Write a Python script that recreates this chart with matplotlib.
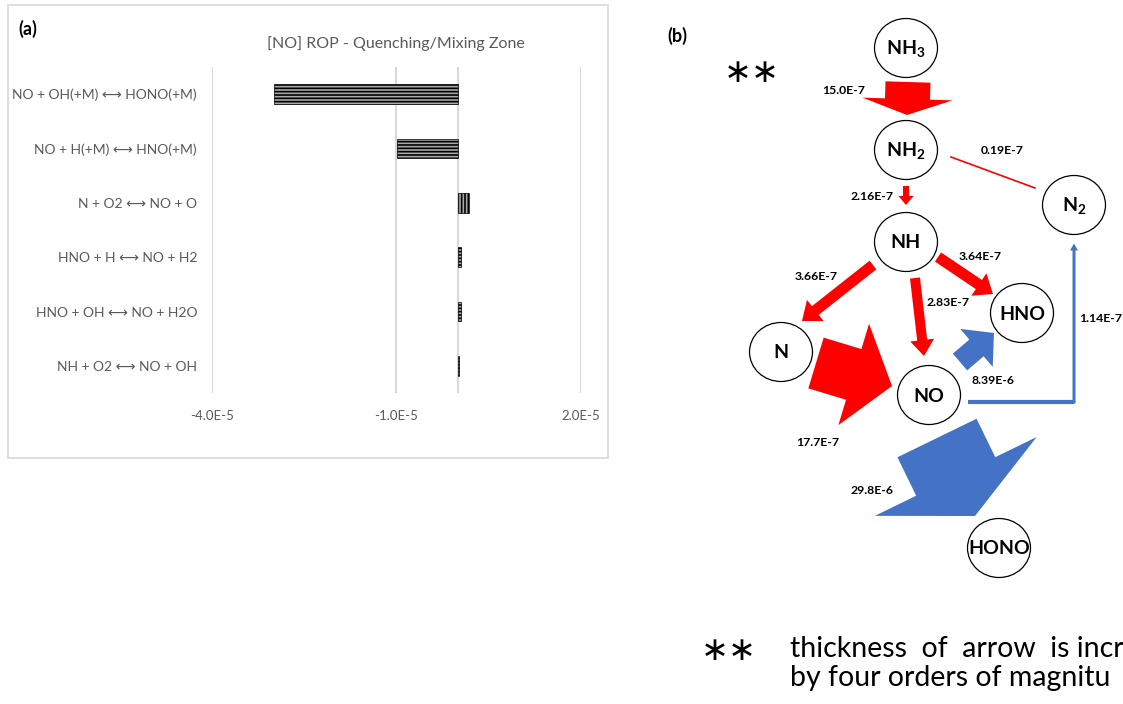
import matplotlib
matplotlib.use("Agg")
import matplotlib.pyplot as plt
from matplotlib.patches import Ellipse, FancyArrow, Rectangle
from matplotlib.ticker import FuncFormatter

plt.rcParams['font.family'] = ['Lato', 'DejaVu Sans']
plt.rcParams['hatch.linewidth'] = 1.2

# (a) rate of production of NO per reaction
reactions = [
    "NO + OH(+M) \u27f7 HONO(+M)",
    "NO + H(+M) \u27f7 HNO(+M)",
    "N + O2 \u27f7 NO + O",
    "HNO + H \u27f7 NO + H2",
    "HNO + OH \u27f7 NO + H2O",
    "NH + O2 \u27f7 NO + OH",
]
rop = [-2.98e-5, -9.9e-6, 1.77e-6, 5.5e-7, 5.0e-7, 2.0e-7]
x_ticks = [-4e-5, -1e-5, 2e-5]

# (b) reaction path: species and fluxes between them
species = ["NH$_\\mathbf{3}$", "NH$_\\mathbf{2}$", "NH", "N$_\\mathbf{2}$", "N", "NO", "HNO", "HONO"]
flux_src = ["NH3", "NH2", "NH2", "NH", "NH", "NH", "N", "NO", "NO", "NO"]
flux_dst = ["NH2", "NH", "N2", "HNO", "N", "NO", "NO", "HNO", "HONO", "N2"]
flux_labels = ["15.0E-7", "2.16E-7", "0.19E-7", "3.64E-7", "3.66E-7",
               "2.83E-7", "17.7E-7", "8.39E-6", "29.8E-6", "1.14E-7"]

plt.rcParams['mathtext.fontset'] = 'custom'
plt.rcParams['mathtext.bf'] = 'Lato:bold'
plt.rcParams['mathtext.rm'] = 'Lato'

W, H = 1123, 704
fig = plt.figure(figsize=(W / 100, H / 100), dpi=100)

# pixel-space canvas for the pathway diagram and panel frame
cv = fig.add_axes([0, 0, 1, 1])
cv.set_xlim(0, W)
cv.set_ylim(H, 0)
cv.axis('off')

grey_txt = '#595959'
red = '#ff0000'
blue = '#4472c4'

cv.add_patch(Rectangle((8, 5), 600, 453, fill=False, edgecolor='#d9d9d9', lw=1.2))
cv.text(18, 29, "(a)", fontsize=13, fontweight='bold', va='center')
cv.text(667, 36, "(b)", fontsize=13, fontweight='bold', va='center')

# ---- bar chart ----
ax = fig.add_axes([211.7 / W, 1 - 393 / H, 369.2 / W, 326 / H])
ax.set_facecolor('none')
ypos = list(range(len(reactions)))
bars = ax.barh(ypos, rop, height=0.36, color='#a8a8a8', edgecolor='black',
               linewidth=0.5, hatch='-----')
bars[2].set_hatch('|||||')
ax.set_xlim(-4e-5, 2e-5)
ax.set_ylim(len(reactions) - 0.5, -0.5)
ax.set_xticks(x_ticks)
ax.set_yticks(ypos)
ax.set_yticklabels(reactions)


def sci(v, pos):
    m, e = f"{v:.1E}".split("E")
    return f"{m}E{int(e)}"


ax.xaxis.set_major_formatter(FuncFormatter(sci))
ax.grid(axis='x', color='#d9d9d9', lw=1.5)
ax.axvline(0, color='#d9d9d9', lw=1.5, zorder=0)
ax.set_axisbelow(True)
for s in ax.spines.values():
    s.set_visible(False)
ax.tick_params(length=0, labelsize=9.5, colors=grey_txt, pad=12)
ax.tick_params(axis='y', labelsize=10, pad=10.5)
ax.set_title("[NO] ROP - Quenching/Mixing Zone", fontsize=11.5, color=grey_txt, pad=14)

# ---- pathway diagram ----
node_xy = {"NH3": (906, 48), "NH2": (906, 150), "NH": (906, 242), "N2": (1074, 205),
           "N": (781, 352), "NO": (929, 395), "HNO": (1022, 313), "HONO": (999, 548)}
for key, name in zip(node_xy, species):
    x, y = node_xy[key]
    cv.add_patch(Ellipse((x, y), 63, 59, facecolor='white', edgecolor='black', lw=0.9, zorder=3))
    cv.text(x, y + 1, name, fontsize=14, fontweight='bold', ha='center', va='center', zorder=4)

# arrow geometry per flux: start, end, shaft width, head width, head length
arrow_geom = [
    ((908, 82), (907, 115), 45, 90, 16),
    ((906, 186), (906, 205), 6, 15, 9),
    None,
    ((938, 257), (993, 294), 11, 27, 17),
    ((873, 265), (802, 321), 11, 27, 17),
    ((915, 278), (924, 356), 10, 24, 16),
    ((816, 363), (892, 386), 53, 106, 40),
    ((960, 362), (994, 333), 22, 50, 23),
    ((937, 438), (975, 516), 88, 180, 44),
    None,
]
label_xy = [(844, 90), (872, 196), (1002, 151), (980, 256), (816, 276),
            (948, 303), (818, 443), (993, 381), (872, 490), (1101, 319)]

for i, g in enumerate(arrow_geom):
    col = blue if flux_src[i] == "NO" else red
    if g is not None:
        (x0, y0), (x1, y1), w, hw, hl = g
        cv.add_patch(FancyArrow(x0, y0, x1 - x0, y1 - y0, width=w, head_width=hw,
                                head_length=hl, length_includes_head=True,
                                color=col, lw=0, zorder=2))
    cv.text(*label_xy[i], flux_labels[i], fontsize=8.8, fontweight='bold',
            ha='center', va='center', zorder=5)

# thin NH2 -> N2 link
cv.plot([951, 1035], [157, 188], color=red, lw=1.2, zorder=2)
# NO -> N2 elbow
cv.plot([968, 1074], [402, 402], color=blue, lw=3, solid_capstyle='butt', zorder=2)
cv.add_patch(FancyArrow(1074, 403.5, 0, -160, width=3, head_width=8, head_length=7,
                        length_includes_head=True, color=blue, lw=0, zorder=2))

# thickness note (runs off the right edge of the page)
cv.text(752, 73, "\u2217\u2217", family='DejaVu Sans', fontsize=24, ha='center', va='center')
cv.text(729, 650, "\u2217\u2217", family='DejaVu Sans', fontsize=24, ha='center', va='center')
cv.text(790, 657, "thickness  of  arrow  is incr", fontsize=20.5, va='baseline')
cv.text(790, 686, "by four orders of magnitu", fontsize=20.5, va='baseline')

fig.savefig("out.png", dpi=100)
